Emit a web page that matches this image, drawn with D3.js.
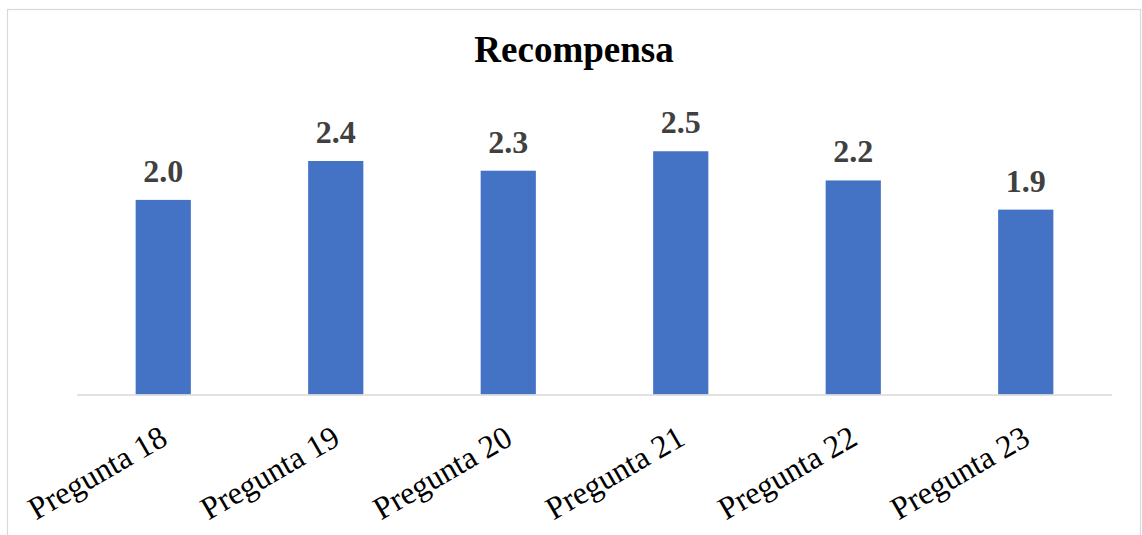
<!DOCTYPE html>
<html>
<head>
<meta charset="utf-8">
<script src="https://cdn.jsdelivr.net/npm/d3@7"></script>
<style>
  html, body { margin: 0; padding: 0; background: #fff; }
  svg { display: block; }
</style>
</head>
<body>
<svg id="chart" width="1142" height="535"></svg>
<script>
// Reward scores by question
const categories = ["Pregunta 18", "Pregunta 19", "Pregunta 20", "Pregunta 21", "Pregunta 22", "Pregunta 23"];
const values = [2.0, 2.4, 2.3, 2.5, 2.2, 1.9];
const valueLabels = ["2.0", "2.4", "2.3", "2.5", "2.2", "1.9"];
const title = "Recompensa";

const W = 1142, H = 535;
const svg = d3.select("#chart");
const serif = "'Liberation Serif', 'Times New Roman', serif";

// outer chart frame
svg.append("rect")
  .attr("x", 7.5).attr("y", 9.5)
  .attr("width", 1133).attr("height", 540)
  .attr("fill", "#fff").attr("stroke", "#d9d9d9").attr("stroke-width", 1.2);

const plot = { left: 77, right: 1112, top: 102.6, bottom: 394.5 };

const x = d3.scaleBand()
  .domain(categories)
  .range([plot.left, plot.right])
  .paddingInner(0.68)
  .paddingOuter(0.34);

const y = d3.scaleLinear()
  .domain([0, 3])
  .range([plot.bottom, plot.top]);

// bars
svg.append("g").selectAll("rect")
  .data(categories)
  .join("rect")
  .attr("x", d => x(d))
  .attr("y", (d, i) => y(values[i]))
  .attr("width", x.bandwidth())
  .attr("height", (d, i) => y(0) - y(values[i]))
  .attr("fill", "#4472C4");

// category axis line
svg.append("line")
  .attr("x1", plot.left).attr("x2", plot.right)
  .attr("y1", plot.bottom + 0.5).attr("y2", plot.bottom + 0.5)
  .attr("stroke", "#d9d9d9").attr("stroke-width", 1.5);

// value labels above bars
svg.append("g").selectAll("text")
  .data(categories)
  .join("text")
  .attr("x", d => x(d) + x.bandwidth() / 2)
  .attr("y", (d, i) => y(values[i]) - 18)
  .attr("text-anchor", "middle")
  .attr("font-family", serif)
  .attr("font-weight", "bold")
  .attr("font-size", 32)
  .attr("fill", "#404040")
  .text((d, i) => valueLabels[i]);

// rotated category labels
svg.append("g").selectAll("text")
  .data(categories)
  .join("text")
  .attr("transform", d => `translate(${x(d) + x.bandwidth() / 2 + 6},${plot.bottom + 49}) rotate(-30)`)
  .attr("text-anchor", "end")
  .attr("font-family", serif)
  .attr("font-size", 32)
  .attr("fill", "#000")
  .text(d => d);

// title
svg.append("text")
  .attr("x", 574).attr("y", 62)
  .attr("text-anchor", "middle")
  .attr("font-family", serif)
  .attr("font-weight", "bold")
  .attr("font-size", 37)
  .attr("fill", "#000")
  .text(title);
</script>
</body>
</html>
